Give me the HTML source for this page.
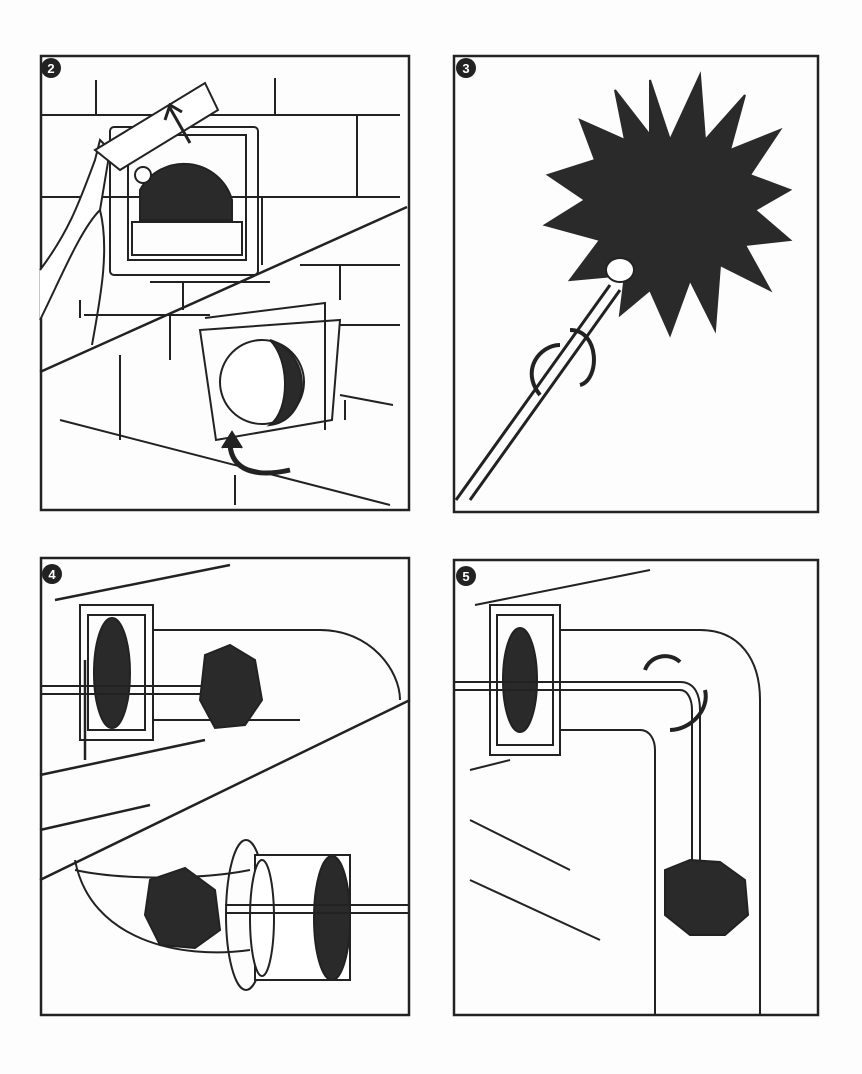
<!DOCTYPE html>
<html><head><meta charset="utf-8"><style>
html,body{margin:0;padding:0;background:#fff;}
svg{display:block}
text{font-family:"Liberation Sans",sans-serif;font-weight:bold}
</style></head><body>
<svg width="862" height="1074" viewBox="0 0 862 1074" xmlns="http://www.w3.org/2000/svg">
<rect width="862" height="1074" fill="#fdfdfd"/>
<g fill="none" stroke="#222" stroke-width="2">
<!-- Panel 2 -->
<rect x="41" y="56" width="368" height="454" stroke-width="2.5"/>
<path d="M40 115 H400 M96 80 V115 M275 78 V115 M357 115 V197 M40 197 H400 M262 197 V265 M150 282 H270 M183 282 V310"/>
<rect x="110" y="127" width="148" height="148" rx="4"/>
<rect x="128" y="135" width="118" height="125"/>
<path d="M140 220 V190 A50 50 0 0 1 232 200 V220 Z" fill="#2a2a2a"/>
<rect x="132" y="222" width="110" height="33"/>
<path d="M40 372 L407 207" stroke-width="2.5"/>
<path d="M40 320 C60 280 80 230 100 210 L110 150 L100 140 L95 160 C80 200 70 230 40 270" fill="#fff"/>
<path d="M100 210 C110 250 100 300 92 345" />
<path d="M95 150 L205 83 L218 110 L120 170 Z" fill="#fff"/>
<circle cx="143" cy="175" r="8" fill="#fff"/>
<path d="M190 143 L170 108 M165 120 L170 105 L182 112" stroke-width="3"/>
<path d="M200 330 L340 320 L332 420 L216 440 Z"/>
<path d="M205 318 L325 303 L325 430" />
<circle cx="262" cy="382" r="42" fill="#fff"/>
<path d="M270 340 C290 360 290 410 270 425 C310 420 315 355 270 340" fill="#2a2a2a"/>
<path d="M60 420 L390 505 M80 300 V318 M120 355 V440 M170 315 V360 M84 315 H210 M345 400 V420 M340 395 L393 405 M235 475 V505 M340 265 V300 M300 265 H400 M340 325 H400"/>
<path d="M230 445 C232 470 255 478 290 470" stroke-width="5"/>
<path d="M222 448 L232 432 L242 448" fill="#222"/>
<!-- Panel 3 -->
<rect x="454" y="56" width="364" height="456" stroke-width="2.5"/>
<path d="M456 500 L610 285 M470 500 L620 290" stroke-width="3"/>
<path d="M650 80 L670 140 L700 75 L705 140 L745 95 L730 150 L780 130 L750 175 L790 190 L755 210 L790 240 L745 245 L770 290 L720 265 L715 330 L690 280 L670 335 L650 290 L620 315 L625 275 L570 280 L600 240 L545 225 L585 200 L548 175 L595 160 L580 120 L625 140 L615 90 L650 135 Z" fill="#2a2a2a" stroke="#2a2a2a"/>
<ellipse cx="620" cy="270" rx="14" ry="12" fill="#fff"/>
<path d="M540 395 C520 370 540 345 560 345 M570 330 C600 330 600 380 580 385" stroke-width="4"/>
<!-- Panel 4 -->
<rect x="41" y="558" width="368" height="457" stroke-width="2.5"/>
<path d="M55 600 L230 565 M40 775 L205 740 M85 660 V760 M40 830 L150 805 M40 880 L410 700" stroke-width="2.5"/>
<rect x="80" y="605" width="73" height="135"/>
<rect x="88" y="615" width="57" height="115"/>
<ellipse cx="112" cy="673" rx="18" ry="55" fill="#2a2a2a"/>
<path d="M153 630 H320 C370 630 400 670 400 700 M153 720 H300"/>
<path d="M40 686 H215 M40 694 H215" stroke-width="2"/>
<path d="M205 655 L230 645 L255 660 L262 700 L245 725 L215 728 L200 700 Z" fill="#2a2a2a"/>
<path d="M75 860 C90 940 180 960 250 950 M250 870 C200 880 120 880 75 870"/>
<ellipse cx="246" cy="915" rx="20" ry="75"/>
<rect x="255" y="855" width="95" height="125" fill="#fff"/>
<ellipse cx="262" cy="918" rx="12" ry="58" fill="#fff"/>
<ellipse cx="332" cy="918" rx="18" ry="62" fill="#2a2a2a"/>
<path d="M225 905 H410 M225 913 H410" stroke-width="2"/>
<path d="M150 880 L185 868 L215 890 L220 930 L195 948 L160 945 L145 915 Z" fill="#2a2a2a"/>
<!-- Panel 5 -->
<rect x="454" y="560" width="364" height="455" stroke-width="2.5"/>
<path d="M475 605 L650 570 M470 770 L510 760 M470 820 L570 870 M470 880 L600 940"/>
<rect x="490" y="605" width="70" height="150"/>
<rect x="497" y="615" width="56" height="130"/>
<ellipse cx="520" cy="680" rx="17" ry="52" fill="#2a2a2a"/>
<path d="M560 630 H700 C740 630 760 660 760 700 V1015 M560 730 H640 C650 730 655 740 655 750 V1015"/>
<path d="M454 682 H680 C695 682 700 695 700 710 V860 M454 690 H680 C688 690 692 700 692 710 V860" stroke-width="2"/>
<path d="M665 870 L690 860 L720 862 L745 880 L748 915 L725 935 L690 935 L665 915 Z" fill="#2a2a2a"/>
<path d="M645 670 C650 655 670 652 680 662 M705 690 C710 710 690 730 670 730" stroke-width="4"/>
</g>
<g>
<circle cx="51" cy="68" r="10" fill="#222"/><text x="51" y="73" fill="#fff" font-size="13" text-anchor="middle">2</text>
<circle cx="466" cy="68" r="10" fill="#222"/><text x="466" y="73" fill="#fff" font-size="13" text-anchor="middle">3</text>
<circle cx="52" cy="574" r="10" fill="#222"/><text x="52" y="579" fill="#fff" font-size="13" text-anchor="middle">4</text>
<circle cx="466" cy="576" r="10" fill="#222"/><text x="466" y="581" fill="#fff" font-size="13" text-anchor="middle">5</text>
</g>
</svg>
</body></html>
